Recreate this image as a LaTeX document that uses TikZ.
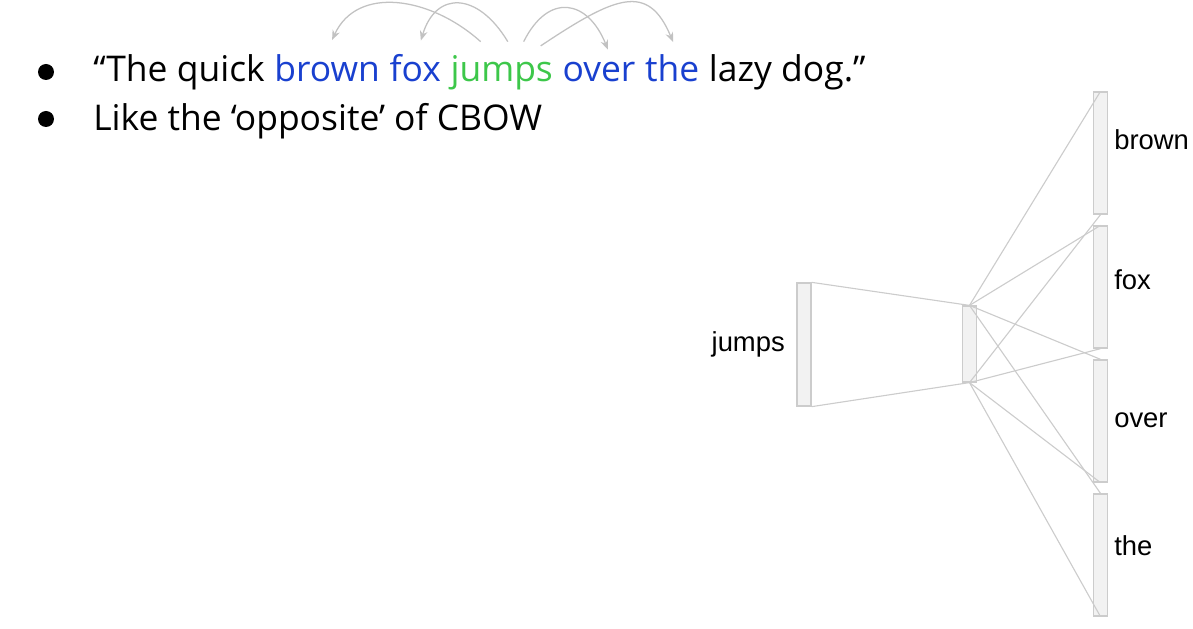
\documentclass[tikz,border=0pt]{standalone}
\usepackage{fontspec}
\setmainfont{Open Sans}
\newfontfamily\labelfont{Liberation Sans}
\usetikzlibrary{arrows.meta, positioning}
\definecolor{WordBlue}{rgb}{0.10, 0.25, 0.81}
\definecolor{WordGreen}{rgb}{0.24, 0.78, 0.29}
\definecolor{arcgray}{rgb}{0.76, 0.76, 0.76}
\definecolor{linegray}{rgb}{0.80, 0.80, 0.80}
\definecolor{barfill}{rgb}{0.95, 0.95, 0.95}
\newcommand{\wordgap}{6.5pt}

\begin{document}
\begin{tikzpicture}[x=0.025cm, y=-0.025cm, >=Stealth,
    word/.style={inner sep=0pt, font=\fontsize{25.2}{30}\selectfont},
    skiparc/.style={arcgray, line width=0.9pt, -{Stealth[length=7pt, width=5.5pt]}},
    bar/.style={draw=linegray, fill=barfill, line width=0.9pt, inner sep=0pt, minimum width=10pt},
    wire/.style={linegray, line width=0.8pt},
    lbl/.style={inner sep=0pt, anchor=west, font=\labelfont\fontsize{19.5}{22}\selectfont}]
        \useasboundingbox (0,0) rectangle (1193,629);

        % Bullets
        \fill [black] (46,72) circle (8);
        \fill [black] (46,119) circle (8);

        % Sentence, one node per word that is linked
        \node [word, anchor=base west] (quick) at (93,82) {“The quick};
        \node [word, WordBlue, base right=\wordgap of quick] (w-brown) {brown};
        \node [word, WordBlue, base right=\wordgap of w-brown] (w-fox) {fox};
        \node [word, WordGreen, base right=\wordgap of w-fox] (w-jumps) {jumps};
        \node [word, WordBlue, base right=\wordgap of w-jumps] (w-over) {over};
        \node [word, WordBlue, base right=\wordgap of w-over] (w-the) {the};
        \node [word, base right=\wordgap of w-the] (lazy) {lazy dog.”};
        \node [word, anchor=base west] (cbow) at (93,131) {Like the ‘opposite’ of CBOW};

        % Skip-gram context arcs
        \draw [skiparc] ([xshift=-15pt, yshift=10pt]w-jumps.north)
            .. controls +(-50,-45) and +(25,-55) .. ([xshift=3.5pt, yshift=10.5pt]w-brown.north);
        \draw [skiparc] ([xshift=4.3pt, yshift=10pt]w-jumps.north)
            .. controls +(-30,-50) and +(15,-50) .. ([xshift=4pt, yshift=10pt]w-fox.north);
        \draw [skiparc] ([xshift=15.6pt, yshift=10pt]w-jumps.north)
            .. controls +(25,-50) and +(-20,-50) .. ([xshift=6.4pt, yshift=9pt]w-over.north);
        \draw [skiparc] ([xshift=27.7pt, yshift=7pt]w-jumps.north)
            .. controls +(75,-50) and +(-25,-60) .. ([xshift=0.7pt, yshift=9pt]w-the.north);

        % Network bars
        \node [bar, minimum height=87.5pt] (in) at (804,344.5) {};
        \node [bar, minimum height=54pt] (hid) at (969.5,344) {};
        \node [bar, minimum height=86.8pt] (out-brown) at (1100.5,153) {};
        \node [bar, minimum height=86.8pt] (out-fox) at (1100.5,287) {};
        \node [bar, minimum height=86.8pt] (out-over) at (1100.5,421) {};
        \node [bar, minimum height=86.8pt] (out-the) at (1100.5,555) {};

        % Labels
        \node [lbl, anchor=east, left=8pt of in] (l-jumps) {jumps};
        \node [lbl] (l-brown) at (1114,140) {brown};
        \node [lbl] (l-fox) at (1114,280) {fox};
        \node [lbl] (l-over) at (1114,420) {over};
        \node [lbl] (l-the) at (1114,546) {the};

        % Connections
        \draw [wire] (in.north east) -- (hid.north);
        \draw [wire] (in.south east) -- (hid.south);
        \foreach \w in {brown, fox, over, the} {
            \draw [wire] (hid.north) -- (out-\w.north);
            \draw [wire] (hid.south) -- (out-\w.south);
        }
    \end{tikzpicture}
\end{document}
